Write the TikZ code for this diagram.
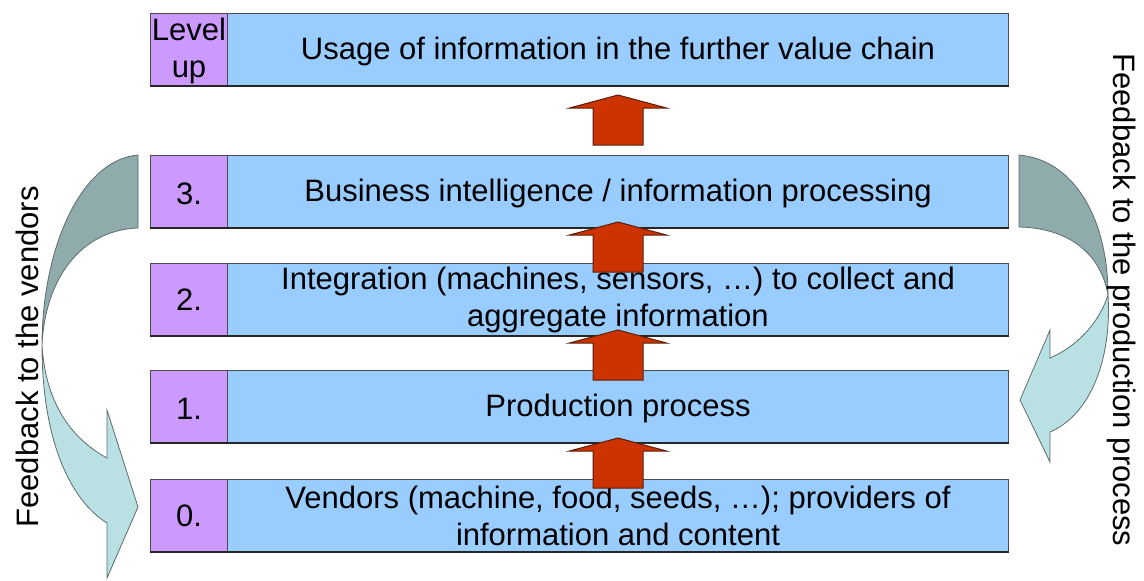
\documentclass[tikz,border=0pt]{standalone}
\usepackage{fontspec}
\setmainfont{Liberation Sans}
\definecolor{boxblue}{HTML}{99CCFF}
\definecolor{boxpurple}{HTML}{CC99FF}
\definecolor{arrred}{HTML}{CC3300}
\definecolor{arrredline}{HTML}{5A1E0A}
\definecolor{fbdark}{HTML}{8FABAB}
\definecolor{fblight}{HTML}{B9E1E3}
\definecolor{fbline}{HTML}{5F6B6B}
\begin{document}
\begin{tikzpicture}[x=1pt,y=-1pt,
  font=\fontsize{31}{37}\selectfont,
  lvl/.style={draw=black!70, line width=1pt, fill=boxpurple, minimum width=77pt,
    minimum height=72pt, inner sep=0pt, anchor=north west, align=center},
  txt/.style={draw=black!70, line width=1pt, fill=boxblue, minimum width=781pt,
    minimum height=72pt, inner sep=0pt, anchor=north west, align=center},
  lowtext/.style={text depth=0pt, yshift=0pt},
  botline/.style={draw=black!85, line width=2.5pt},
  fbdarkpart/.style={fill=fbdark, draw=fbline, line width=0.8pt},
  fblightpart/.style={fill=fblight, draw=fbline, line width=0.8pt},
  sidetext/.style={inner sep=0pt},
  uparr/.pic={\draw[arrredline, fill=arrred, line width=1pt, line join=miter]
    (-25,0) -- (-25,-37) -- (-48.5,-37) -- (0,-50) -- (48.5,-37) -- (25,-37) -- (25,0) -- cycle;}
]
\useasboundingbox (0,0) rectangle (1144,581);

% rows
\node[lvl] (lt) at (150,13) {\fontsize{31}{33}\selectfont\rule{0pt}{26pt}Level\\up\rule[-4pt]{0pt}{4pt}};
\node[txt] (tt) at (227,13) {\rule{0pt}{26pt}Usage of information in the further value chain};
\draw[botline] (lt.south west) -- (tt.south east);

\node[lvl] (l3) at (150,155) {\rule{0pt}{26pt}3.};
\node[txt] (t3) at (227,155) {\rule{0pt}{26pt}Business intelligence / information processing};
\draw[botline] (l3.south west) -- (t3.south east);

\node[lvl] (l2) at (150,263) {2.};
\node[txt] (t2) at (227,263) {\fontsize{31}{38}\selectfont Integration (machines, sensors, \dots) to collect and\\aggregate information};
\draw[botline] (l2.south west) -- (t2.south east);

\node[lvl] (l1) at (150,370) {\rule{0pt}{26pt}1.};
\node[txt] (t1) at (227,370) {\rule{0pt}{26pt}Production process};
\draw[botline] (l1.south west) -- (t1.south east);

\node[lvl] (l0) at (150,479) {0.};
\node[txt] (t0) at (227,479) {Vendors (machine, food, seeds, \dots); providers of\\information and content};
\draw[botline] (l0.south west) -- (t0.south east);

% red upward arrows
\pic at (618,145) {uparr};
\pic at (618,272) {uparr};
\pic at (618,380) {uparr};
\pic at (618,488) {uparr};

% left curved feedback arrow
\path[fbdarkpart] (138,155) .. controls (80,160) and (42,250) .. (42,345)
  .. controls (45,280) and (80,230) .. (138,228) -- cycle;
\path[fblightpart] (42,345) .. controls (42,440) and (70,500) .. (107,523)
  -- (107,578) -- (138,507) -- (107,410) -- (107,458)
  .. controls (65,435) and (45,395) .. (42,345) -- cycle;
\node[sidetext, rotate=90] (fbv) at (27,357) {Feedback to the vendors};

% right curved feedback arrow
\path[fbdarkpart] (1019,155) .. controls (1075,160) and (1108,220) .. (1108,295)
  .. controls (1100,250) and (1065,228) .. (1019,227) -- cycle;
\path[fblightpart] (1108,295) .. controls (1112,360) and (1090,415) .. (1050,432)
  -- (1050,462) -- (1020,400) -- (1050,330) -- (1050,358)
  .. controls (1080,345) and (1100,320) .. (1108,295) -- cycle;
\node[sidetext, rotate=-90] (fbp) at (1122,300) {Feedback to the production process};
\end{tikzpicture}
\end{document}
